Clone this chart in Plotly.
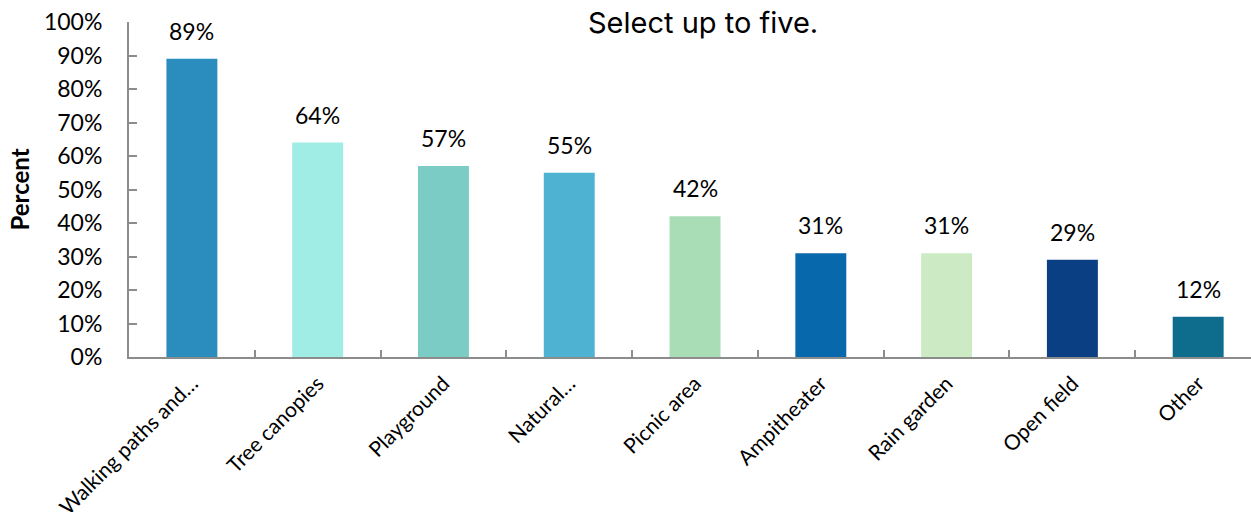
import plotly.graph_objects as go

categories = ["Walking paths and…", "Tree canopies", "Playground", "Natural…",
              "Picnic area", "Ampitheater", "Rain garden", "Open field", "Other"]
values = [89, 64, 57, 55, 42, 31, 31, 29, 12]
colors = ["#2B8CBE", "#A0EDE6", "#7BCCC4", "#4EB3D3", "#A8DDB5",
          "#0868AC", "#CCEBC5", "#0A4083", "#0E6C8C"]
y_ticks = list(range(0, 101, 10))
y_tick_labels = [f"{v}%" for v in y_ticks]

font_main = "Lato, Calibri, sans-serif"
axis_grey = "#8C8C8C"

fig = go.Figure(
    go.Bar(
        x=categories,
        y=values,
        marker=dict(color=colors, line=dict(width=0)),
        hoverinfo="skip",
    )
)

# value labels above each bar
for cat, val in zip(categories, values):
    fig.add_annotation(
        x=cat, y=val, text=f"{val}%", showarrow=False,
        yanchor="bottom", yshift=12,
        font=dict(family=font_main, size=23, color="#000000"),
    )

fig.add_annotation(
    xref="paper", yref="paper", x=0.512, y=1.0, yshift=0,
    text="Select up to five.", showarrow=False,
    xanchor="center", yanchor="middle",
    font=dict(family="Inter, 'Noto Sans', sans-serif", size=29, color="#000000"),
)

fig.update_layout(
    width=1251, height=512,
    margin=dict(l=129, r=0, t=22, b=155, autoexpand=False),
    paper_bgcolor="white", plot_bgcolor="white",
    bargap=0.595,
    showlegend=False,
    font=dict(family=font_main, size=22, color="#000000"),
)

fig.update_xaxes(
    range=[-0.5, 8.42],
    automargin=False,
    showline=True, linecolor=axis_grey, linewidth=2,
    ticks="inside", tickson="boundaries", ticklen=7, tickwidth=2, tickcolor=axis_grey,
    tickangle=-45, ticklabelstandoff=4,
    tickfont=dict(family=font_main, size=21, color="#000000"),
    showgrid=False, zeroline=False,
)

fig.update_yaxes(
    range=[0, 100],
    automargin=False,
    tickvals=y_ticks, ticktext=y_tick_labels,
    showline=True, linecolor=axis_grey, linewidth=2,
    ticks="inside", ticklen=8, tickwidth=2, tickcolor=axis_grey,
    ticklabelstandoff=20,
    tickfont=dict(family=font_main, size=23, color="#000000"),
    showgrid=False, zeroline=False,
    title=dict(text="<b>Percent</b>", standoff=8,
               font=dict(family=font_main, size=24, color="#000000")),
)

fig.write_html("out.html")
